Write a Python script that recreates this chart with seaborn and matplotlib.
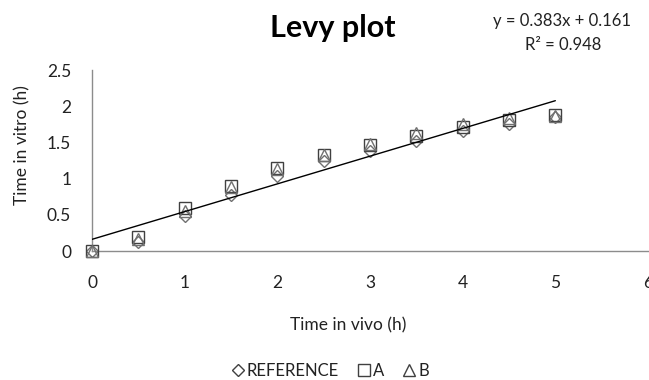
import matplotlib
matplotlib.use("Agg")
import matplotlib.pyplot as plt
import seaborn as sns
import numpy as np
import pandas as pd
from matplotlib.lines import Line2D

x_vivo = [0, 0.5, 1, 1.5, 2, 2.5, 3, 3.5, 4, 4.5, 5]
ref_vals = [0, 0.12, 0.48, 0.78, 1.03, 1.24, 1.38, 1.52, 1.66, 1.76, 1.85]
a_vals = [0, 0.20, 0.60, 0.90, 1.15, 1.32, 1.46, 1.59, 1.71, 1.81, 1.88]
b_vals = [0, 0.17, 0.55, 0.88, 1.13, 1.32, 1.48, 1.63, 1.75, 1.84, 1.87]
series_names = ["REFERENCE", "A", "B"]
slope = 0.383
intercept = 0.161
r2 = 0.948
x_ticks = [0, 1, 2, 3, 4, 5, 6]
y_ticks = [0, 0.5, 1, 1.5, 2, 2.5]
y_tick_labels = ["0", "0.5", "1", "1.5", "2", "2.5"]

sns.set_style("white")
plt.rcParams['font.family'] = ['Lato', 'DejaVu Sans']

df = pd.DataFrame({
    "x": x_vivo * 3,
    "y": ref_vals + a_vals + b_vals,
    "series": sum([[n] * len(x_vivo) for n in series_names], []),
})

fig = plt.figure(figsize=(6.49, 3.80), dpi=100)
ax = fig.add_axes([92/649, 1 - 251/380, 556/649, 181/380])

markers = {"REFERENCE": "D", "A": "s", "B": "^"}
colors = {"REFERENCE": "#707070", "A": "#404040", "B": "#707070"}
sizes = {"REFERENCE": 6.5, "A": 8.5, "B": 8}
for name in series_names:
    sub = df[df.series == name]
    ax.plot(sub.x, sub.y, linestyle="none", marker=markers[name],
            markersize=sizes[name],
            markerfacecolor="none", markeredgecolor=colors[name],
            markeredgewidth=1.0, label=name, zorder=3, clip_on=False)

xl = np.array([min(x_vivo), max(x_vivo)])
sns.lineplot(x=xl, y=slope * xl + intercept, ax=ax, color="black",
             linewidth=1.0, zorder=4, legend=False)

ax.set_xlim(0, 6)
ax.set_ylim(0, 2.5)
ax.set_xticks(x_ticks)
ax.set_yticks(y_ticks)
ax.set_yticklabels(y_tick_labels)
for s in ["top", "right"]:
    ax.spines[s].set_visible(False)
for s in ["left", "bottom"]:
    ax.spines[s].set_color("#8c8c8c")
    ax.spines[s].set_linewidth(1.0)
ax.tick_params(axis="both", which="both", direction="out", length=5,
               color="#8c8c8c", labelsize=12.5, labelcolor="#222222")
ax.tick_params(axis="x", pad=12)
ax.tick_params(axis="y", pad=10)

fig.text(22/649, 1 - 145/380, "Time in vitro (h)", rotation=90,
         ha="center", va="center", fontsize=12.5, color="#222222")
fig.text(348/649, 1 - 325/380, "Time in vivo (h)", ha="center",
         va="center", fontsize=12.5, color="#222222")
fig.text(333/649, 1 - 28/380, "Levy plot", ha="center", va="center",
         fontsize=22, fontweight="bold", color="black")
fig.text(562/649, 1 - 21/380, f"y = {slope}x + {intercept}", ha="center",
         va="center", fontsize=12, color="#222222")
fig.text(563/649, 1 - 45/380, f"R² = {r2}", ha="center",
         va="center", fontsize=12, color="#222222")

leg_handles = [Line2D([], [], linestyle="none", marker=markers[n],
                      markersize=8 if n != "REFERENCE" else 6.5,
                      markerfacecolor="none", markeredgecolor="#404040",
                      markeredgewidth=1.0) for n in series_names]
fig.legend(leg_handles, series_names, loc="center",
           bbox_to_anchor=(331/649, 1 - 371/380), ncol=3, frameon=False,
           fontsize=12, handlelength=0.6, handletextpad=0.25,
           columnspacing=1.2, labelcolor="#222222")

fig.savefig("out.png", dpi=100)
